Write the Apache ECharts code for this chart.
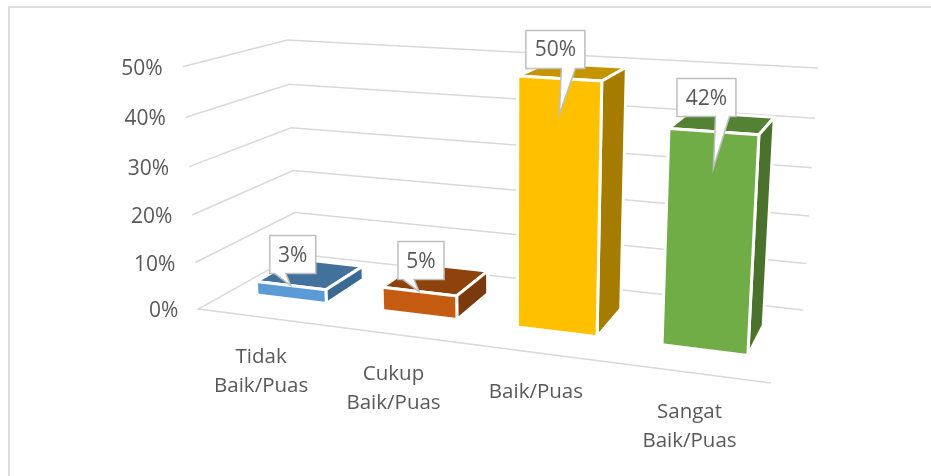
<!DOCTYPE html>
<html>
<head>
<meta charset="utf-8">
<style>
  html, body { margin: 0; padding: 0; background: #fff; }
  #chart { width: 931px; height: 476px; }
</style>
<script src="https://cdn.jsdelivr.net/npm/echarts@6/dist/echarts.min.js"></script>
</head>
<body>
<div id="chart"></div>
<script>
const categories = ['Tidak\nBaik/Puas', 'Cukup\nBaik/Puas', 'Baik/Puas', 'Sangat\nBaik/Puas'];
const values = [3, 5, 50, 42];
const yTicks = [0, 10, 20, 30, 40, 50];

const frontColors = ['#5B9BD5', '#C55A11', '#FFC000', '#70AD47'];
const topColors = ['#41719C', '#8E430C', '#C49500', '#548235'];
const sideColors = ['#3A6A94', '#7B3A0B', '#A67C00', '#4A722C'];

const TEXT = '#595959';
const FONT = '"Open Sans"';
const BAR_WIDTH = 0.56;
const BAR_SHIFT = 0.002;
const BAR_Z0 = 0.29;
const BAR_Z1 = 0.71;
// callout box nudges in px, the label boxes were moved by hand in the original
const calloutNudge = [[2, 1], [2, 1], [-1, 3], [-4, -2]];

// corners of the 3d box as seen in the picture: [u, z, w] -> [x, y]
const boxCorners = [
  [[0, 0, 0], [198, 309]],
  [[0, 1, 0], [297, 254]],
  [[1, 1, 0], [803, 310]],
  [[1, 0, 0], [771, 383]],
  [[0, 0, 1], [183, 67]],
  [[0, 1, 1], [287, 40]],
  [[1, 1, 1], [818, 68]]
];

// least squares fit of a camera matrix, last term fixed to 1
function fitCamera(pairs) {
  const A = [];
  const b = [];
  pairs.forEach(([[u, z, w], [x, y]]) => {
    A.push([u, z, w, 1, 0, 0, 0, 0, -x * u, -x * z, -x * w]);
    b.push(x);
    A.push([0, 0, 0, 0, u, z, w, 1, -y * u, -y * z, -y * w]);
    b.push(y);
  });
  const n = 11;
  const M = [];
  for (let i = 0; i < n; i++) {
    M.push([]);
    for (let j = 0; j <= n; j++) {
      let s = 0;
      for (let r = 0; r < A.length; r++) {
        s += A[r][i] * (j < n ? A[r][j] : b[r]);
      }
      M[i].push(s);
    }
  }
  for (let i = 0; i < n; i++) {
    let best = i;
    for (let r = i + 1; r < n; r++) {
      if (Math.abs(M[r][i]) > Math.abs(M[best][i])) best = r;
    }
    [M[i], M[best]] = [M[best], M[i]];
    for (let r = 0; r < n; r++) {
      if (r === i) continue;
      const f = M[r][i] / M[i][i];
      for (let j = i; j <= n; j++) M[r][j] -= f * M[i][j];
    }
  }
  return M.map((row, i) => row[n] / row[i]);
}

const cam = fitCamera(boxCorners);

function project(u, z, w) {
  const d = cam[8] * u + cam[9] * z + cam[10] * w + 1;
  return [
    (cam[0] * u + cam[1] * z + cam[2] * w + cam[3]) / d,
    (cam[4] * u + cam[5] * z + cam[6] * w + cam[7]) / d
  ];
}

// grid coords -> normalised box coords
function toBox(params, api, cat, val) {
  const p = api.coord([cat, val]);
  const cs = params.coordSys;
  return [(p[0] - cs.x) / cs.width, 1 - (p[1] - cs.y) / cs.height];
}

function renderWall(params, api) {
  const w = toBox(params, api, 0, api.value(1))[1];
  const pts = [project(0, 0, w), project(0, 1, w), project(1, 1, w)];
  if (api.value(1) === 0) {
    pts.unshift(project(1, 0, 0));
  }
  return {
    type: 'polyline',
    shape: { points: pts },
    style: { stroke: '#D9D9D9', lineWidth: 1.5, fill: null }
  };
}

function renderTick(params, api) {
  const w = toBox(params, api, 0, api.value(1))[1];
  const p = project(0, 0, w);
  return {
    type: 'text',
    x: p[0] - 20,
    y: p[1] + 2,
    style: {
      text: api.value(1) + '%',
      fill: TEXT,
      font: '21px ' + FONT,
      align: 'right',
      verticalAlign: 'middle'
    }
  };
}

function renderBar(params, api) {
  const i = api.value(0);
  const box = toBox(params, api, i, api.value(1));
  const half = api.size([1, 0])[0] / params.coordSys.width * BAR_WIDTH / 2;
  const u0 = box[0] + BAR_SHIFT - half;
  const u1 = box[0] + BAR_SHIFT + half;
  const w = box[1];
  const face = (points, fill) => ({
    type: 'polygon',
    shape: { points: points },
    style: { fill: fill, stroke: '#fff', lineWidth: 3, lineJoin: 'round' }
  });
  return {
    type: 'group',
    children: [
      face([project(u0, BAR_Z0, w), project(u1, BAR_Z0, w), project(u1, BAR_Z1, w), project(u0, BAR_Z1, w)], topColors[i]),
      face([project(u1, BAR_Z0, 0), project(u1, BAR_Z1, 0), project(u1, BAR_Z1, w), project(u1, BAR_Z0, w)], sideColors[i]),
      face([project(u0, BAR_Z0, 0), project(u1, BAR_Z0, 0), project(u1, BAR_Z0, w), project(u0, BAR_Z0, w)], frontColors[i])
    ]
  };
}

function renderCallout(params, api) {
  const i = api.value(0);
  const val = api.value(1);
  const box = toBox(params, api, i, val);
  const a = project(box[0] + BAR_SHIFT, BAR_Z0, box[1]);
  const tall = val >= 10;
  const bw = tall ? 59 : 46;
  const bh = 38;
  const cx = a[0] + (tall ? -3 : 0) + calloutNudge[i][0];
  const bottom = a[1] - 13 + calloutNudge[i][1];
  const left = cx - bw / 2;
  const right = cx + bw / 2;
  const tipY = tall ? a[1] + 36 : a[1];
  const base0 = tall ? a[0] + 2 : a[0] - 16;
  const base1 = tall ? a[0] + 16 : a[0] - 5;
  return {
    type: 'group',
    children: [
      {
        type: 'polygon',
        shape: {
          points: [[left, bottom - bh], [right, bottom - bh], [right, bottom], [base1, bottom], [a[0], tipY], [base0, bottom], [left, bottom]]
        },
        style: { fill: '#fff', stroke: '#BFBFBF', lineWidth: 1.5 }
      },
      {
        type: 'text',
        x: cx,
        y: bottom - bh / 2 + 1,
        style: {
          text: val + '%',
          fill: TEXT,
          font: '21px ' + FONT,
          align: 'center',
          verticalAlign: 'middle'
        }
      }
    ]
  };
}

function renderCategory(params, api) {
  const i = api.value(0);
  const box = toBox(params, api, i, 0);
  const p = project(box[0], 0, 0);
  return {
    type: 'text',
    x: p[0],
    y: p[1] + 25,
    style: {
      text: categories[i],
      fill: TEXT,
      font: '20.5px ' + FONT,
      lineHeight: 29,
      align: 'center',
      verticalAlign: 'top'
    }
  };
}

const barData = values.map((v, i) => [i, v]);
const tickData = yTicks.map(t => [0, t]);
const catData = categories.map((c, i) => [i, 0]);

function customSeries(name, data, renderItem) {
  return { name: name, type: 'custom', data: data, renderItem: renderItem, silent: true, clip: false, animation: false };
}

const myChart = echarts.init(document.getElementById('chart'), null, { renderer: 'canvas' });
myChart.setOption({
  animation: false,
  backgroundColor: '#fff',
  grid: { left: 100, right: 100, top: 50, bottom: 50 },
  xAxis: { type: 'category', data: categories, show: false },
  yAxis: { type: 'value', min: 0, max: 50, interval: 10, show: false },
  // frame of the pasted picture, cut off at the right and bottom
  graphic: [{
    type: 'polyline',
    shape: { points: [[9, 476], [9, 7], [931, 7]] },
    style: { fill: null, stroke: '#DDDDDD', lineWidth: 2 }
  }],
  series: [
    customSeries('wall', tickData, renderWall),
    customSeries('ticks', tickData, renderTick),
    customSeries('categories', catData, renderCategory),
    customSeries('bars', barData, renderBar),
    customSeries('callouts', barData, renderCallout)
  ]
});
</script>
</body>
</html>
